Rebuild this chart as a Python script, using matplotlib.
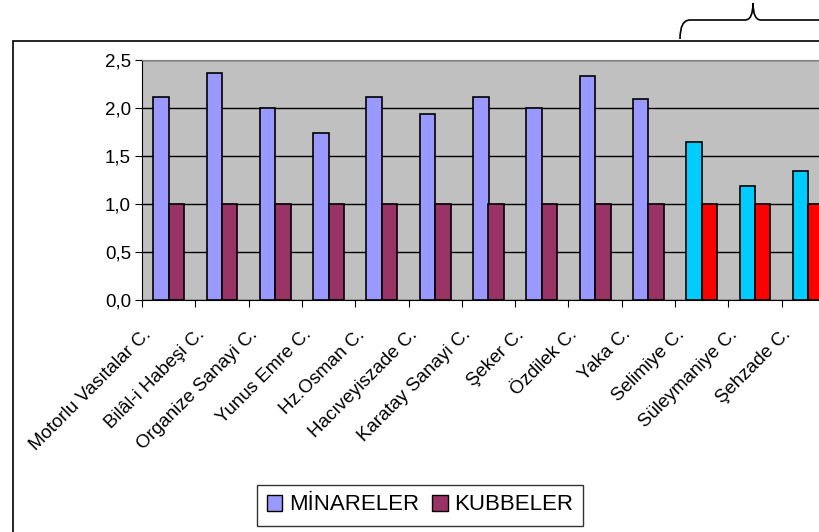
import numpy as np
import matplotlib.pyplot as plt
import matplotlib.transforms as mtransforms
from matplotlib.patches import Rectangle, Patch
from matplotlib.path import Path
from matplotlib.patches import PathPatch

plt.rcParams['font.family'] = ['Liberation Sans', 'DejaVu Sans']

# data
camiler = ['Motorlu Vasıtalar C.', 'Bilâl-i Habeşi C.', 'Organize Sanayi C.',
           'Yunus Emre C.', 'Hz.Osman C.', 'Hacıveyiszade C.', 'Karatay Sanayi C.',
           'Şeker C.', 'Özdilek C.', 'Yaka C.', 'Selimiye C.', 'Süleymaniye C.',
           'Şehzade C.']
minareler = [2.11, 2.36, 2.00, 1.74, 2.11, 1.94, 2.11, 2.00, 2.33, 2.09, 1.65, 1.19, 1.34]
kubbeler = [1.0] * 13
# last three (historical mosques) get other colours
tarihi = [False] * 10 + [True] * 3

fig = plt.figure(figsize=(8.2, 5.32), dpi=100)

# outer frame (runs off the right and bottom edges)
fig.patches.append(Rectangle((13 / 820, -0.1), 1.0, 1 - 41 / 532 + 0.1,
                             transform=fig.transFigure, fill=False,
                             edgecolor='black', linewidth=1.2))

ax = fig.add_axes([142 / 820, 1 - 300 / 532, (835 - 142) / 820, 240 / 532])
ax.set_facecolor('#C0C0C0')

x = np.arange(len(camiler))
w = 0.29
c_min = ['#00CCFF' if t else '#9999FF' for t in tarihi]
c_kub = ['#FF0000' if t else '#993366' for t in tarihi]
ax.bar(x - w / 2, minareler, w, color=c_min, edgecolor='black', linewidth=1.2, zorder=3)
ax.bar(x + w / 2, kubbeler, w, color=c_kub, edgecolor='black', linewidth=1.2, zorder=3)

ax.set_xlim(-0.5, len(camiler) - 0.5)
ax.set_ylim(0, 2.5)
yt = np.arange(0, 2.51, 0.5)
ax.set_yticks(yt)
ax.set_yticklabels([f'{v:.1f}'.replace('.', ',') for v in yt], fontsize=13.5)
ax.yaxis.grid(True, color='black', linewidth=1, zorder=1)
ax.set_axisbelow(True)

# ticks at category borders, names as rotated text under each group
ax.set_xticks(np.arange(-0.5, len(camiler), 1))
ax.set_xticklabels([])
ax.tick_params(axis='x', length=5, direction='out')
ax.tick_params(axis='y', length=5, direction='out', pad=3)

offset = mtransforms.ScaledTranslation(-20 / 100, -32 / 100, fig.dpi_scale_trans)
for i, ad in enumerate(camiler):
    ax.text(i, 0, ad, transform=ax.get_xaxis_transform() + offset,
            rotation=45, ha='right', va='center', rotation_mode='anchor',
            fontsize=13.5)

for s in ['top', 'right']:
    ax.spines[s].set_color('#808080')
for s in ['left', 'bottom']:
    ax.spines[s].set_color('black')

# legend
handles = [Patch(facecolor='#9999FF', edgecolor='black', label='MİNARELER'),
           Patch(facecolor='#993366', edgecolor='black', label='KUBBELER')]
fig.legend(handles=handles, loc='center', bbox_to_anchor=(420 / 820, 1 - 505 / 532),
           ncol=2, fontsize=16, frameon=True, fancybox=False, edgecolor='black',
           handlelength=0.7, handleheight=0.7, handletextpad=0.3, columnspacing=0.6,
           borderpad=0.45)

# brace over the last three mosques (pixel coords -> figure coords)
def fp(px, py):
    return (px / 820, 1 - py / 532)

verts = [fp(680, 39), fp(680, 20), fp(690, 20), fp(700, 20),
         fp(745, 20), fp(753, 20), fp(753, 3),
         fp(753, 20), fp(761, 20), fp(806, 20),
         fp(816, 20), fp(826, 20), fp(826, 39)]
codes = [Path.MOVETO, Path.CURVE3, Path.CURVE3, Path.LINETO,
         Path.LINETO, Path.CURVE3, Path.CURVE3,
         Path.CURVE3, Path.CURVE3, Path.LINETO,
         Path.CURVE3, Path.CURVE3, Path.LINETO]
fig.patches.append(PathPatch(Path(verts, codes), transform=fig.transFigure,
                             fill=False, edgecolor='black', linewidth=1.2))

plt.savefig('out.png', dpi=100)
